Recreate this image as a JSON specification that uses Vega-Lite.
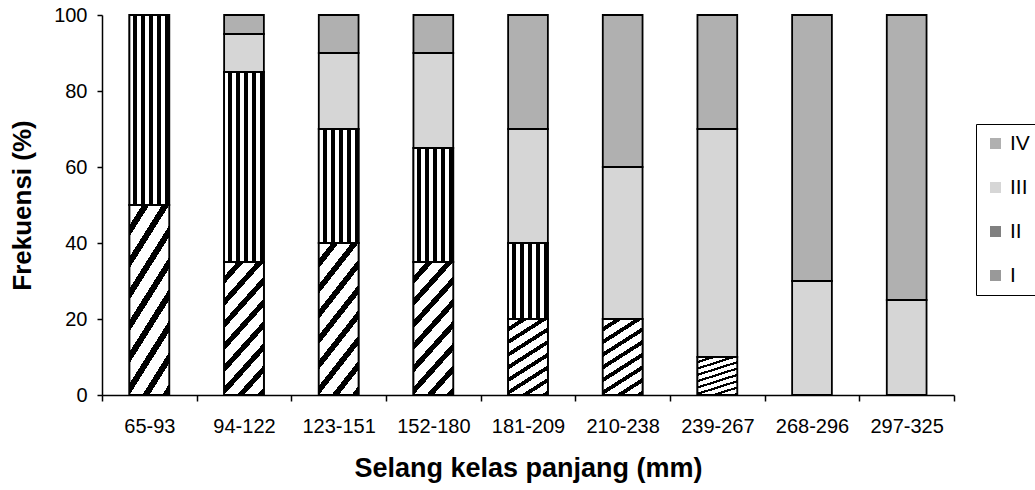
{
  "$schema": "https://vega.github.io/schema/vega-lite/v6.json",
  "autosize": "none",
  "width": 852,
  "height": 380,
  "padding": {"left": 102, "top": 15, "right": 81, "bottom": 95},
  "background": "white",
  "config": {
    "font": "Liberation Sans",
    "view": {"stroke": null},
    "axis": {
      "domainColor": "black",
      "domainWidth": 1.5,
      "tickColor": "black",
      "tickWidth": 1.5,
      "labelColor": "black",
      "titleColor": "black",
      "grid": false,
      "labelFont": "Liberation Sans",
      "titleFont": "Liberation Sans"
    },
    "legend": {"labelFont": "Liberation Sans"}
  },
  "data": {
    "values": [
      {"kelas": "65-93", "kelompok": "I", "value": 50},
      {"kelas": "65-93", "kelompok": "II", "value": 50},
      {"kelas": "94-122", "kelompok": "I", "value": 35},
      {"kelas": "94-122", "kelompok": "II", "value": 50},
      {"kelas": "94-122", "kelompok": "III", "value": 10},
      {"kelas": "94-122", "kelompok": "IV", "value": 5},
      {"kelas": "123-151", "kelompok": "I", "value": 40},
      {"kelas": "123-151", "kelompok": "II", "value": 30},
      {"kelas": "123-151", "kelompok": "III", "value": 20},
      {"kelas": "123-151", "kelompok": "IV", "value": 10},
      {"kelas": "152-180", "kelompok": "I", "value": 35},
      {"kelas": "152-180", "kelompok": "II", "value": 30},
      {"kelas": "152-180", "kelompok": "III", "value": 25},
      {"kelas": "152-180", "kelompok": "IV", "value": 10},
      {"kelas": "181-209", "kelompok": "I", "value": 20},
      {"kelas": "181-209", "kelompok": "II", "value": 20},
      {"kelas": "181-209", "kelompok": "III", "value": 30},
      {"kelas": "181-209", "kelompok": "IV", "value": 30},
      {"kelas": "210-238", "kelompok": "I", "value": 20},
      {"kelas": "210-238", "kelompok": "III", "value": 40},
      {"kelas": "210-238", "kelompok": "IV", "value": 40},
      {"kelas": "239-267", "kelompok": "I", "value": 10},
      {"kelas": "239-267", "kelompok": "III", "value": 60},
      {"kelas": "239-267", "kelompok": "IV", "value": 30},
      {"kelas": "268-296", "kelompok": "III", "value": 30},
      {"kelas": "268-296", "kelompok": "IV", "value": 70},
      {"kelas": "297-325", "kelompok": "III", "value": 25},
      {"kelas": "297-325", "kelompok": "IV", "value": 75}
    ]
  },
  "transform": [
    {"stack": "value", "groupby": ["kelas"], "sort": [{"field": "kelompok", "order": "ascending"}], "as": ["y0", "y1"]}
  ],
  "encoding": {
    "x": {
      "field": "kelas",
      "type": "nominal",
      "sort": null,
      "scale": {"paddingInner": 0, "paddingOuter": 0},
      "axis": {
        "title": "Selang kelas panjang (mm)",
        "labelAngle": 0,
        "labelFontSize": 20,
        "titleFontSize": 27,
        "titleFontWeight": "bold",
        "tickBand": "extent",
        "tickSize": 6,
        "labelPadding": 15,
        "titlePadding": 19
      }
    },
    "y": {
      "field": "y0",
      "type": "quantitative",
      "scale": {"domain": [0, 100]},
      "axis": {
        "title": "Frekuensi (%)",
        "values": [0, 20, 40, 60, 80, 100],
        "labelFontSize": 20,
        "titleFontSize": 26,
        "titleFontWeight": "bold",
        "tickSize": 5,
        "labelPadding": 10,
        "titlePadding": 18
      }
    },
    "y2": {"field": "y1"}
  },
  "layer": [
    {
      "mark": {"type": "bar", "stroke": "black", "strokeWidth": 1.8, "width": {"band": 0.42}},
      "encoding": {
        "fill": {
          "field": "kelompok",
          "type": "nominal",
          "scale": {
            "domain": ["IV", "III", "II", "I"],
            "range": ["#b0b0b0", "#d6d6d6", "#808080", "#999999"]
          },
          "legend": {
            "title": null,
            "orient": "none",
            "legendX": 874,
            "legendY": 109,
            "strokeColor": "black",
            "padding": 9,
            "symbolType": "square",
            "symbolSize": 121,
            "symbolStrokeColor": "black",
            "symbolStrokeWidth": 1,
            "symbolOpacity": 1,
            "labelFontSize": 21,
            "labelColor": "black",
            "labelOffset": 4,
            "rowPadding": 22,
            "encode": {
              "symbols": {
                "update": {
                  "fill": [
                    {
                      "test": "datum.value === 'II'",
                      "value": {
                        "gradient": "linear", "x1": 0, "y1": 0, "x2": 1, "y2": 0,
                        "stops": [
                          {"offset": 0, "color": "#ffffff"}, {"offset": 0.33, "color": "#ffffff"},
                          {"offset": 0.33, "color": "#000000"}, {"offset": 0.66, "color": "#000000"},
                          {"offset": 0.66, "color": "#ffffff"}, {"offset": 1, "color": "#ffffff"}
                        ]
                      }
                    },
                    {
                      "test": "datum.value === 'I'",
                      "value": {
                        "gradient": "linear", "x1": 0, "y1": 0, "x2": 1, "y2": 1,
                        "stops": [
                          {"offset": 0, "color": "#000000"}, {"offset": 0.4, "color": "#000000"},
                          {"offset": 0.4, "color": "#ffffff"}, {"offset": 0.75, "color": "#ffffff"},
                          {"offset": 0.75, "color": "#000000"}, {"offset": 1, "color": "#000000"}
                        ]
                      }
                    },
                    {"scale": "fill", "field": "value"}
                  ]
                }
              }
            }
          }
        }
      }
    },
    {
      "transform": [{"filter": "datum.kelompok === 'II'"}],
      "mark": {"type": "bar", "stroke": "black", "strokeWidth": 1.8, "width": {"band": 0.42}},
      "encoding": {
        "fill": {
          "value": {
            "gradient": "linear", "x1": 0, "y1": 0, "x2": 1, "y2": 0,
            "stops": [
              {"offset": 0, "color": "#ffffff"}, {"offset": 0.1, "color": "#ffffff"},
              {"offset": 0.1, "color": "#000000"}, {"offset": 0.2, "color": "#000000"},
              {"offset": 0.2, "color": "#ffffff"}, {"offset": 0.3, "color": "#ffffff"},
              {"offset": 0.3, "color": "#000000"}, {"offset": 0.4, "color": "#000000"},
              {"offset": 0.4, "color": "#ffffff"}, {"offset": 0.5, "color": "#ffffff"},
              {"offset": 0.5, "color": "#000000"}, {"offset": 0.6, "color": "#000000"},
              {"offset": 0.6, "color": "#ffffff"}, {"offset": 0.7, "color": "#ffffff"},
              {"offset": 0.7, "color": "#000000"}, {"offset": 0.8, "color": "#000000"},
              {"offset": 0.8, "color": "#ffffff"}, {"offset": 0.9, "color": "#ffffff"},
              {"offset": 0.9, "color": "#000000"}, {"offset": 1, "color": "#000000"}
            ]
          }
        }
      }
    },
    {
      "transform": [{"filter": "datum.kelompok === 'I'"}],
      "mark": {"type": "bar", "stroke": "black", "strokeWidth": 1.8, "width": {"band": 0.42}},
      "encoding": {
        "fill": {
          "value": {
            "gradient": "linear", "x1": 0, "y1": 0, "x2": 1, "y2": 3,
            "stops": [
              {"offset": 0, "color": "#ffffff"}, {"offset": 0.032, "color": "#ffffff"},
              {"offset": 0.032, "color": "#000000"}, {"offset": 0.05, "color": "#000000"},
              {"offset": 0.05, "color": "#ffffff"}, {"offset": 0.082, "color": "#ffffff"},
              {"offset": 0.082, "color": "#000000"}, {"offset": 0.1, "color": "#000000"},
              {"offset": 0.1, "color": "#ffffff"}, {"offset": 0.132, "color": "#ffffff"},
              {"offset": 0.132, "color": "#000000"}, {"offset": 0.15, "color": "#000000"},
              {"offset": 0.15, "color": "#ffffff"}, {"offset": 0.182, "color": "#ffffff"},
              {"offset": 0.182, "color": "#000000"}, {"offset": 0.2, "color": "#000000"},
              {"offset": 0.2, "color": "#ffffff"}, {"offset": 0.232, "color": "#ffffff"},
              {"offset": 0.232, "color": "#000000"}, {"offset": 0.25, "color": "#000000"},
              {"offset": 0.25, "color": "#ffffff"}, {"offset": 0.282, "color": "#ffffff"},
              {"offset": 0.282, "color": "#000000"}, {"offset": 0.3, "color": "#000000"},
              {"offset": 0.3, "color": "#ffffff"}, {"offset": 0.332, "color": "#ffffff"},
              {"offset": 0.332, "color": "#000000"}, {"offset": 0.35, "color": "#000000"},
              {"offset": 0.35, "color": "#ffffff"}, {"offset": 0.382, "color": "#ffffff"},
              {"offset": 0.382, "color": "#000000"}, {"offset": 0.4, "color": "#000000"},
              {"offset": 0.4, "color": "#ffffff"}, {"offset": 1, "color": "#ffffff"}
            ]
          }
        }
      }
    }
  ]
}
